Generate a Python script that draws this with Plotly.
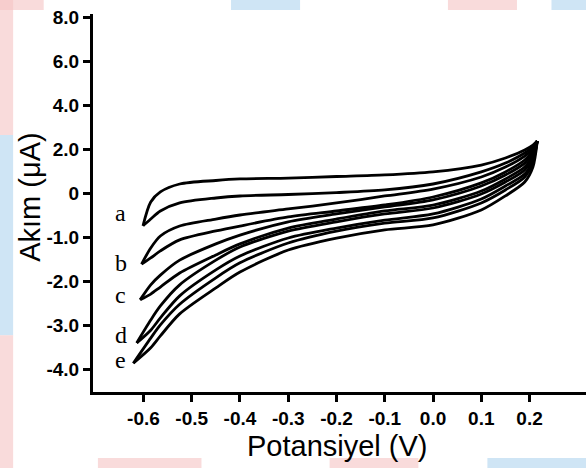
import numpy as np
import plotly.graph_objects as go

# Cyclic voltammograms a-e: potential (V) vs current (uA)
loop_names = ["a", "b", "c", "d", "e"]

# Potential of the switching point at the negative end of each scan
tip_potential = [-0.601, -0.604, -0.607, -0.614, -0.621]
tip_current = [-0.73, -1.60, -2.41, -3.39, -3.85]

# Potentials sampled along each branch (towards the +0.216 V vertex)
sweep_potential = [-0.585, -0.565, -0.525, -0.45, -0.40, -0.30, -0.20,
                   -0.10, 0.00, 0.10, 0.15, 0.19, 0.207, 0.216]

# Current on the upper (anodic) branch of each loop
upper_current = {
    "a": [-0.19, 0.08, 0.44, 0.60, 0.67, 0.71, 0.78, 0.85, 0.99, 1.30, 1.62, 1.99, 2.21, 2.39],
    "b": [-1.233, -0.961, -0.734, -0.575, -0.484, -0.347, -0.211, -0.052, 0.21, 0.76, 1.21, 1.71, 2.03, 2.39],
    "c": [-2.07, -1.85, -1.51, -1.14, -0.94, -0.64, -0.46, -0.30, -0.14, 0.35, 0.85, 1.39, 1.85, 2.39],
    "d": [-2.87, -2.55, -2.07, -1.51, -1.21, -0.85, -0.64, -0.46, -0.325, -0.007, 0.53, 1.08, 1.67, 2.39],
    "e": [-3.28, -2.98, -2.51, -1.91, -1.57, -1.12, -0.85, -0.67, -0.55, -0.21, 0.17, 0.76, 1.44, 2.39],
}

# Current on the lower (cathodic) branch of each loop
lower_current = {
    "a": [-0.575, -0.393, -0.21, -0.098, -0.052, -0.018, 0.05, 0.17, 0.44, 0.99, 1.39, 1.85, 2.12, 2.39],
    "b": [-1.46, -1.30, -1.05, -0.847, -0.734, -0.529, -0.393, -0.257, -0.075, 0.49, 0.99, 1.53, 1.94, 2.39],
    "c": [-2.28, -2.12, -1.80, -1.39, -1.14, -0.78, -0.575, -0.39, -0.26, 0.12, 0.67, 1.21, 1.76, 2.39],
    "d": [-3.10, -2.82, -2.32, -1.73, -1.415, -1.006, -0.78, -0.60, -0.46, -0.12, 0.35, 0.89, 1.53, 2.39],
    "e": [-3.50, -3.23, -2.73, -2.14, -1.78, -1.28, -1.01, -0.82, -0.71, -0.37, -0.05, 0.53, 1.21, 2.39],
}

# Axis ticks
x_ticks = [-0.6, -0.5, -0.4, -0.3, -0.2, -0.1, 0.0, 0.1, 0.2]
x_ticklabels = ["-0.6", "-0.5", "-0.4", "-0.3", "-0.2", "-0.1", "0.0", "0.1", "0.2"]
y_ticks = [8.0, 6.0, 4.0, 2.0, 0.0, -1.0, -2.0, -3.0, -4.0]
y_ticklabels = ["8.0", "6.0", "4.0", "2.0", "0", "-1.0", "-2.0", "-3.0", "-4.0"]


def axis_pos(current):
    """Current axis is compressed 2:1 above zero (ticks every 2 uA) and 1:1 below."""
    c = np.asarray(current, dtype=float)
    return np.where(c > 0, c / 2.0, c)


fig = go.Figure()

for i, name in enumerate(loop_names):
    for branch in (upper_current, lower_current):
        xs = [tip_potential[i]] + sweep_potential
        ys = axis_pos([tip_current[i]] + branch[name])
        fig.add_trace(go.Scatter(
            x=xs, y=ys, mode="lines",
            line=dict(color="black", width=2.8, shape="spline", smoothing=0.8),
            hoverinfo="skip", showlegend=False,
        ))

# Loop letters beside the negative switching points
letter_x = -0.647
letter_y = [-0.44, -1.58, -2.30, -3.21, -3.78]
for name, ly in zip(loop_names, letter_y):
    fig.add_annotation(
        x=letter_x, y=float(axis_pos([ly])[0]), xref="x", yref="y",
        text=name, showarrow=False, xanchor="center", yanchor="middle",
        font=dict(family="Liberation Serif, Times New Roman, serif", size=24, color="black"),
    )

# Axis titles
title_font = dict(family="Liberation Sans, Arial, sans-serif", size=29, color="black")
fig.add_annotation(
    x=0.495, y=-0.143, xref="paper", yref="paper", text="Potansiyel (V)",
    showarrow=False, xanchor="center", yanchor="middle", font=title_font,
)
fig.add_annotation(
    x=-0.128, y=0.516, xref="paper", yref="paper", text="Akım (μA)", textangle=-90,
    showarrow=False, xanchor="center", yanchor="middle", font=title_font,
)

# Faint coloured frame around the page
pink = "rgba(245,195,195,0.6)"
blue = "rgba(175,212,238,0.6)"
frame = [
    (-0.19, 1.04, -0.162, 0.68, pink),
    (-0.19, 0.68, -0.162, 0.15, blue),
    (-0.19, 0.15, -0.162, -0.21, pink),
    (-0.19, 1.04, -0.10, 1.0106, pink),
    (0.28, 1.04, 0.42, 1.0106, blue),
    (0.72, 1.04, 0.86, 1.0106, pink),
    (0.93, 1.04, 1.01, 1.0106, blue),
    (0.01, -0.1746, 0.22, -0.21, pink),
    (0.48, -0.1746, 0.66, -0.21, pink),
    (0.80, -0.1746, 1.01, -0.21, blue),
]
for x0, y0, x1, y1, col in frame:
    fig.add_shape(type="rect", xref="paper", yref="paper", x0=x0, y0=y0, x1=x1, y1=y1,
                  fillcolor=col, line=dict(width=0), layer="below")

tick_font = dict(family="Liberation Sans, Arial, sans-serif", size=19, color="black", weight="bold")

fig.update_layout(
    width=586, height=468,
    margin=dict(l=93, r=0, t=14, b=76),
    paper_bgcolor="white", plot_bgcolor="white",
    showlegend=False,
    xaxis=dict(
        range=[-0.7046, 0.317], tickvals=x_ticks, ticktext=x_ticklabels,
        showline=True, linecolor="black", linewidth=3, mirror=False,
        ticks="outside", ticklen=7, tickwidth=2.5, tickcolor="black",
        showgrid=False, zeroline=False, tickfont=tick_font,
    ),
    yaxis=dict(
        range=[-4.504, 4.081], tickvals=list(axis_pos(y_ticks)), ticktext=y_ticklabels,
        showline=True, linecolor="black", linewidth=3, mirror=False,
        ticks="outside", ticklen=7, tickwidth=2.5, tickcolor="black",
        showgrid=False, zeroline=False, tickfont=tick_font,
    ),
)

fig.write_html("out.html")
